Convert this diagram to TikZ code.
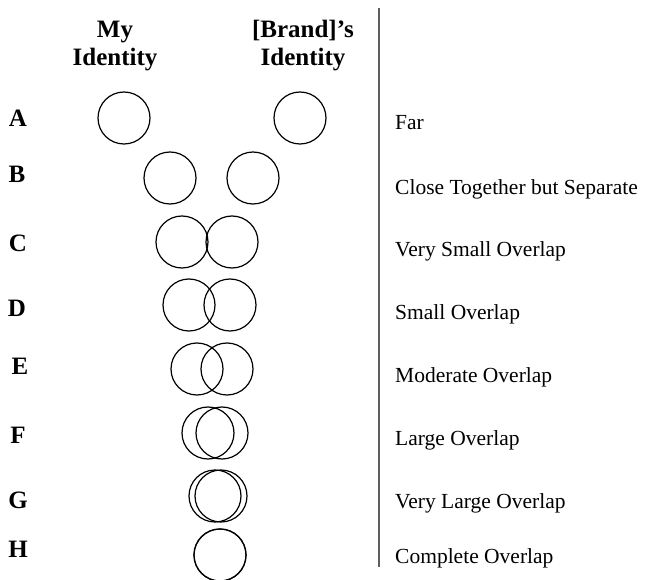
\documentclass[tikz,border=0pt]{standalone}
\usepackage{fontspec}
\setmainfont{Liberation Serif}
\usetikzlibrary{positioning}
\definecolor{rulegray}{RGB}{95,95,95}

\begin{document}
\begin{tikzpicture}[
  x=1pt, y=-1pt,
  every node/.style={inner sep=0pt},
  head/.style={font=\fontsize{25}{28}\selectfont\bfseries, align=center},
  letter/.style={font=\fontsize{25}{28}\selectfont\bfseries, anchor=base},
  ring/.style={draw, circle, line width=1.2pt, minimum size=52pt},
  desc/.style={font=\fontsize{21.5}{24}\selectfont, anchor=base west}
]
  \useasboundingbox (0,0) rectangle (646,580);

  % column heads
  \node[head] (mine)  at (115,46) {My\\Identity};
  \node[head] (brand) at (303,46) {[Brand]'s\\Identity};

  % row letters
  \node[letter] (lA) at (18,127) {A};
  \node[letter] (lB) at (17,183) {B};
  \node[letter] (lC) at (18,252) {C};
  \node[letter] (lD) at (17,317) {D};
  \node[letter] (lE) at (20,375) {E};
  \node[letter] (lF) at (18,443) {F};
  \node[letter] (lG) at (18,508) {G};
  \node[letter] (lH) at (18,557) {H};

  % circle pairs: my identity / brand identity
  \node[ring] (mA) at (124,118) {};  \node[ring] (bA) at (300,118) {};
  \node[ring] (mB) at (170,178) {};  \node[ring] (bB) at (253,178) {};
  \node[ring] (mC) at (182,242) {};  \node[ring] (bC) at (232,242) {};
  \node[ring] (mD) at (189,305) {};  \node[ring] (bD) at (230,305) {};
  \node[ring] (mE) at (197,369) {};  \node[ring] (bE) at (227,369) {};
  \node[ring] (mF) at (208,433) {};  \node[ring] (bF) at (222,433) {};
  \node[ring] (mG) at (215,496) {};  \node[ring] (bG) at (221,496) {};
  \node[ring] (mH) at (220,555) {};  \node[ring] (bH) at (220,555) {};

  % divider
  \coordinate (top) at (379,8);
  \coordinate (bot) at (379,567);
  \draw[rulegray, line width=1.6pt] (top) -- (bot);

  % descriptions
  \node[desc] (dA) at (395,130) {Far};
  \node[desc] (dB) at (395,195) {Close Together but Separate};
  \node[desc] (dC) at (395,257) {Very Small Overlap};
  \node[desc] (dD) at (395,320) {Small Overlap};
  \node[desc] (dE) at (395,382) {Moderate Overlap};
  \node[desc] (dF) at (395,445) {Large Overlap};
  \node[desc] (dG) at (395,508) {Very Large Overlap};
  \node[desc] (dH) at (395,563) {Complete Overlap};
\end{tikzpicture}
\end{document}
